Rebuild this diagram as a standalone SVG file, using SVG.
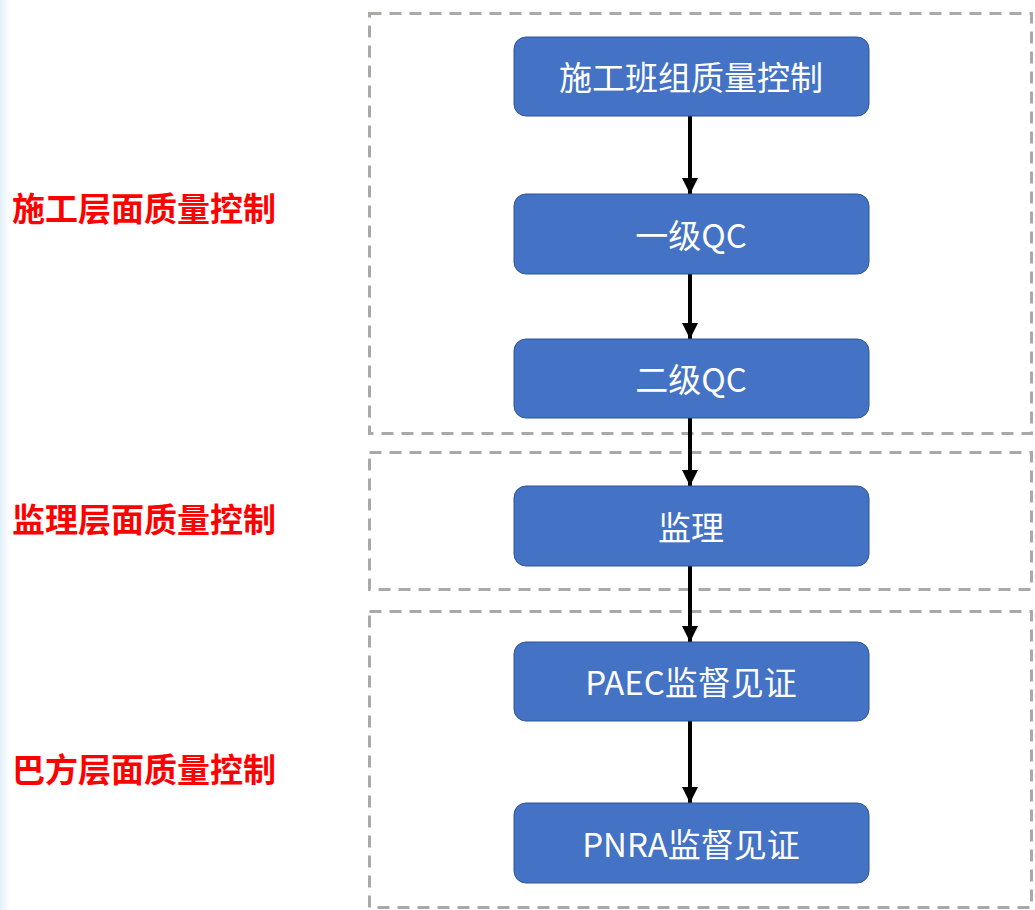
<svg xmlns="http://www.w3.org/2000/svg" width="1035" height="910" viewBox="0 0 1035 910">
<style>
.grp{fill:none;stroke:#aba8a8;stroke-width:3;stroke-dasharray:12 8}
.node rect{fill:#4472c4;stroke:#2f5597;stroke-width:1}
.node text{fill:#fff;font-family:"Noto Sans CJK SC","Noto Sans",sans-serif;font-size:33px;text-anchor:middle;dominant-baseline:central}
.lbl{fill:#ff0000;font-family:"Noto Sans CJK SC",sans-serif;font-size:33px;font-weight:bold}
.conn line{stroke:#000;stroke-width:4}
</style>
<defs>
<marker id="ah" viewBox="0 0 10 10" refX="10" refY="5" markerWidth="4" markerHeight="4" markerUnits="strokeWidth" orient="auto">
<path d="M0,0 L10,5 L0,10 Z" fill="#000"/>
</marker>
<linearGradient id="edge" x1="0" y1="0" x2="1" y2="0">
<stop offset="0" stop-color="#e0eef9"/>
<stop offset="1" stop-color="#ffffff" stop-opacity="0"/>
</linearGradient>
</defs>
<rect x="0" y="0" width="1035" height="910" fill="#fff"/>
<rect x="0" y="0" width="14" height="910" fill="url(#edge)"/>
<g id="groups">
<rect class="grp" x="369.5" y="13.5" width="662" height="420"/>
<rect class="grp" x="369.5" y="452.5" width="662" height="137"/>
<rect class="grp" x="369.5" y="611.5" width="662" height="296"/>
</g>
<g id="labels">
<text class="lbl" x="12" y="221">施工层面质量控制</text>
<text class="lbl" x="12" y="532">监理层面质量控制</text>
<text class="lbl" x="12" y="782">巴方层面质量控制</text>
</g>
<g id="connectors" class="conn">
<line x1="690" y1="116" x2="690" y2="194" marker-end="url(#ah)"/>
<line x1="690" y1="274" x2="690" y2="339" marker-end="url(#ah)"/>
<line x1="690" y1="418" x2="690" y2="486" marker-end="url(#ah)"/>
<line x1="690" y1="566" x2="690" y2="642" marker-end="url(#ah)"/>
<line x1="690" y1="721" x2="690" y2="803" marker-end="url(#ah)"/>
</g>
<g id="n1" class="node"><rect x="514" y="37" width="355" height="79" rx="12"/><text x="691" y="76">施工班组质量控制</text></g>
<g id="n2" class="node"><rect x="514" y="194" width="355" height="80" rx="12"/><text x="691" y="234">一级QC</text></g>
<g id="n3" class="node"><rect x="514" y="339" width="355" height="79" rx="12"/><text x="691" y="378">二级QC</text></g>
<g id="n4" class="node"><rect x="514" y="486" width="355" height="80" rx="12"/><text x="691" y="526">监理</text></g>
<g id="n5" class="node"><rect x="514" y="642" width="355" height="79" rx="12"/><text x="691" y="681">PAEC监督见证</text></g>
<g id="n6" class="node"><rect x="514" y="803" width="355" height="80" rx="12"/><text x="691" y="843">PNRA监督见证</text></g>
</svg>
